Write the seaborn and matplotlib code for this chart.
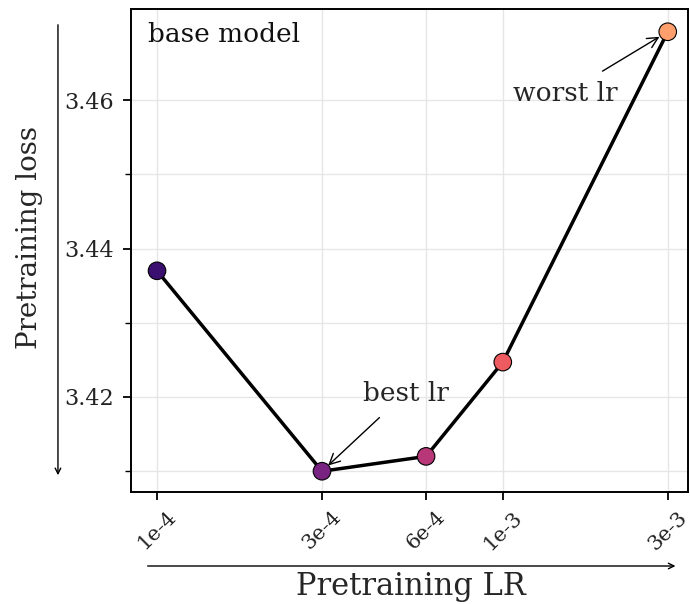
import matplotlib
matplotlib.use("Agg")
import matplotlib.pyplot as plt
from matplotlib.ticker import FixedLocator, NullLocator, NullFormatter
import numpy as np
import pandas as pd
import seaborn as sns

# Learning-rate sweep for the base model
lr_values = [1e-4, 3e-4, 6e-4, 1e-3, 3e-3]
lr_labels = ["1e-4", "3e-4", "6e-4", "1e-3", "3e-3"]
pretrain_loss = [3.437, 3.410, 3.412, 3.4247, 3.4692]

df = pd.DataFrame({"lr": lr_values, "label": lr_labels, "loss": pretrain_loss})

sns.set_theme(style="ticks")
plt.rcParams["font.family"] = ["DejaVu Serif"]
plt.rcParams["axes.edgecolor"] = "black"
plt.rcParams["axes.linewidth"] = 1.4

fig = plt.figure(figsize=(6.9, 6.04), dpi=100)
ax = fig.add_axes([0.1899, 0.1854, 0.807, 0.7989])

cmap = matplotlib.colormaps["magma"]
palette = [cmap(v) for v in np.linspace(0.2, 0.8, len(lr_values))]

sns.lineplot(data=df, x="lr", y="loss", color="black", lw=2.5, ax=ax, zorder=2)
sns.scatterplot(data=df, x="lr", y="loss", hue="label", palette=palette,
                s=160, edgecolor="black", linewidth=0.8, legend=False,
                ax=ax, zorder=3)

ax.set_xscale("log")
ax.set_xlim(8.41e-5, 3.43e-3)
ax.set_ylim(3.4072, 3.4722)

ax.xaxis.set_major_locator(FixedLocator(lr_values))
ax.xaxis.set_minor_locator(NullLocator())
ax.xaxis.set_minor_formatter(NullFormatter())
ax.set_xticklabels(lr_labels, rotation=45, ha="center")

ax.set_yticks([3.42, 3.44, 3.46])
ax.set_yticks([3.41, 3.43, 3.45], minor=True)
ax.tick_params(axis="both", which="major", length=6, width=1.3,
               color="black", labelcolor="#222222")
ax.tick_params(axis="x", which="major", labelsize=15, pad=5)
ax.tick_params(axis="y", which="major", labelsize=16, pad=6)
ax.tick_params(axis="y", which="minor", length=4, width=1.0, color="black")

ax.grid(True, which="both", color="#e6e6e6", lw=1.0)
ax.set_axisbelow(True)
for sp in ax.spines.values():
    sp.set_visible(True)
    sp.set_color("black")

ax.set_xlabel("Pretraining LR", fontsize=22)
ax.set_ylabel("Pretraining loss", fontsize=20)
ax.xaxis.set_label_coords(0.503, -0.163)
ax.yaxis.set_label_coords(-0.158, 0.528)

ax.text(0.0305, 0.975, "base model", transform=ax.transAxes, fontsize=19,
        ha="left", va="top", color="#111111")

ax.annotate("best lr", xy=(lr_values[1], pretrain_loss[1]),
            xytext=(5.23e-4, 3.4205), fontsize=19, ha="center", va="center",
            arrowprops=dict(arrowstyle="->", color="black", lw=1.0,
                            shrinkA=9, shrinkB=6))
ax.annotate("worst lr", xy=(lr_values[4], pretrain_loss[4]),
            xytext=(1.52e-3, 3.4609), fontsize=19, ha="center", va="center",
            arrowprops=dict(arrowstyle="->", color="black", lw=1.0,
                            shrinkA=9, shrinkB=7))

# direction arrows alongside the axes
fig.add_artist(matplotlib.patches.FancyArrowPatch(
    (0.084, 0.9636), (0.084, 0.2086), transform=fig.transFigure,
    arrowstyle="->", mutation_scale=10, lw=1.0, color="black"))
fig.add_artist(matplotlib.patches.FancyArrowPatch(
    (0.210, 0.0629), (0.983, 0.0629), transform=fig.transFigure,
    arrowstyle="->", mutation_scale=10, lw=1.0, color="black"))

fig.savefig("out.png", dpi=100)
